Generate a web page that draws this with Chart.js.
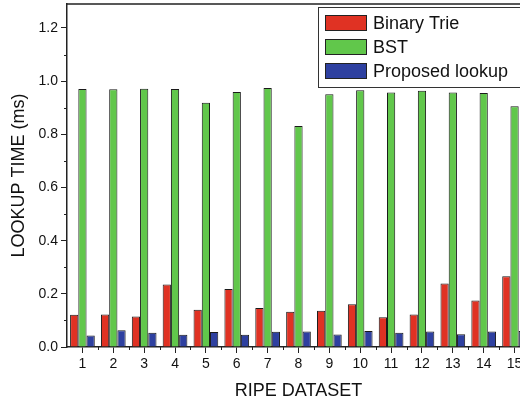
<!DOCTYPE html>
<html>
<head>
<meta charset="utf-8">
<script src="https://cdn.jsdelivr.net/npm/chart.js@4"></script>
<style>
  html, body { margin: 0; padding: 0; background: #fff; overflow: hidden; }
  #wrap { width: 540px; height: 403px; }
</style>
</head>
<body>
<div id="wrap"><canvas id="barChart"></canvas></div>
<script>
const datasets = ['1','2','3','4','5','6','7','8','9','10','11','12','13','14','15'];
const binaryTrie = [0.121, 0.122, 0.115, 0.235, 0.140, 0.218, 0.147, 0.133, 0.136, 0.161, 0.112, 0.122, 0.239, 0.175, 0.266];
const bst = [0.970, 0.969, 0.971, 0.970, 0.919, 0.959, 0.974, 0.831, 0.951, 0.966, 0.957, 0.964, 0.957, 0.955, 0.905];
const proposed = [0.043, 0.063, 0.054, 0.046, 0.056, 0.046, 0.057, 0.058, 0.047, 0.060, 0.054, 0.058, 0.048, 0.058, 0.060];
const yTicks = [0, 0.2, 0.4, 0.6, 0.8, 1.0, 1.2];
const yMinorTicks = [0.1, 0.3, 0.5, 0.7, 0.9, 1.1];

const FONT = "'Liberation Sans', Arial, sans-serif";
const AXIS = '#222';

// frame, minor ticks and the boxed legend inside the plot
const extras = {
  id: 'extras',
  afterDraw(chart) {
    const c = chart.ctx;
    const area = chart.chartArea;
    const x = chart.scales.x;
    const y = chart.scales.y;
    c.save();
    c.strokeStyle = AXIS;
    c.lineWidth = 1.5;
    c.beginPath();
    c.moveTo(area.left, area.top);
    c.lineTo(area.right, area.top);
    c.lineTo(area.right, area.bottom);
    c.stroke();

    c.lineWidth = 1;
    c.beginPath();
    yMinorTicks.forEach(v => {
      const py = Math.round(y.getPixelForValue(v)) + 0.5;
      c.moveTo(area.left - 3, py);
      c.lineTo(area.left, py);
    });
    for (let i = 0; i < datasets.length - 1; i++) {
      const px = Math.round((x.getPixelForValue(i) + x.getPixelForValue(i + 1)) / 2) + 0.5;
      c.moveTo(px, area.bottom);
      c.lineTo(px, area.bottom + 3);
    }
    c.stroke();

    // legend
    const lx = 318, ly = 7, lw = 230, lh = 80;
    c.fillStyle = '#fff';
    c.fillRect(lx, ly, lw, lh);
    c.strokeStyle = '#333';
    c.lineWidth = 1;
    c.strokeRect(lx + 0.5, ly + 0.5, lw, lh);
    c.font = '18px ' + FONT;
    c.textBaseline = 'middle';
    chart.data.datasets.forEach((ds, i) => {
      const cy = 23 + i * 24;
      c.fillStyle = ds.backgroundColor;
      c.fillRect(325, cy - 8, 42, 16);
      c.strokeStyle = '#222';
      c.strokeRect(325.5, cy - 7.5, 41, 15);
      c.fillStyle = '#111';
      c.fillText(ds.label, 373, cy + 1);
    });
    c.restore();
  }
};

const barStyle = { borderColor: '#1a1a1a', borderWidth: 1, categoryPercentage: 0.8, barPercentage: 1.0 };

function noLabelPadding(scale) {
  scale.paddingTop = 0;
  scale.paddingBottom = 0;
  scale.paddingLeft = 0;
  scale.paddingRight = 0;
}

const ctx = document.getElementById('barChart');
new Chart(ctx, {
  type: 'bar',
  data: {
    labels: datasets,
    datasets: [
      { label: 'Binary Trie', data: binaryTrie, backgroundColor: '#e03223', ...barStyle },
      { label: 'BST', data: bst, backgroundColor: '#61c74b', ...barStyle },
      { label: 'Proposed lookup', data: proposed, backgroundColor: '#2e40a0', ...barStyle }
    ]
  },
  options: {
    responsive: true,
    maintainAspectRatio: false,
    animation: false,
    layout: { autoPadding: false, padding: { top: 4, right: 10, left: 0, bottom: 0 } },
    plugins: { legend: { display: false }, tooltip: { enabled: false } },
    scales: {
      x: {
        grid: { offset: false, drawOnChartArea: false, drawTicks: true, tickLength: 6, color: AXIS },
        border: { display: true, color: AXIS, width: 1.5 },
        ticks: { color: '#111', font: { family: FONT, size: 14 }, padding: 3, maxRotation: 0, autoSkip: false },
        title: { display: true, text: 'RIPE DATASET', color: '#111', font: { family: FONT, size: 18 }, padding: { top: 4, bottom: 1 } },
        afterFit(scale) { scale.height = 56; noLabelPadding(scale); }
      },
      y: {
        min: 0,
        max: 1.29,
        afterBuildTicks(scale) { scale.ticks = yTicks.map(v => ({ value: v })); },
        grid: { drawOnChartArea: false, drawTicks: true, tickLength: 6, color: AXIS },
        border: { display: true, color: AXIS, width: 1.5 },
        ticks: { color: '#111', font: { family: FONT, size: 14 }, padding: 3, callback: v => Number(v).toFixed(1) },
        title: { display: true, text: 'LOOKUP TIME (ms)', color: '#111', font: { family: FONT, size: 18 }, padding: { top: 8, bottom: 0 } },
        afterFit(scale) { scale.width = 67; noLabelPadding(scale); }
      }
    }
  },
  plugins: [extras]
});
</script>
</body>
</html>
